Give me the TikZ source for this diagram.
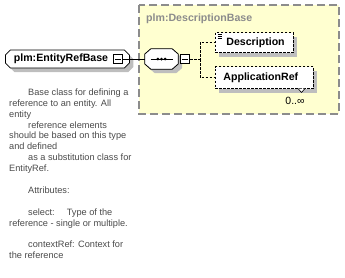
\documentclass[tikz,border=0pt]{standalone}
\usepackage{fontspec}
\setmainfont{Liberation Sans}
\usetikzlibrary{shapes.misc, shadows, calc}
\definecolor{panel}{HTML}{FFFFD0}
\definecolor{panelline}{HTML}{8C8C8C}
\definecolor{shade}{HTML}{BEBEBE}
\definecolor{doc}{HTML}{4A4A4A}
\definecolor{muted}{HTML}{8C8C8C}
\tikzset{
  shade/.style={drop shadow={shadow xshift=4pt, shadow yshift=-4pt, fill=shade, opacity=1}},
  typebox/.style={
    chamfered rectangle, chamfered rectangle xsep=2.5pt, chamfered rectangle ysep=2.5pt,
    draw=black, fill=white, line width=0.8pt, shade,
    minimum height=18pt, text width=107pt, inner xsep=6pt, inner ysep=0pt,
    align=left, font=\bfseries\fontsize{10.6}{12}\selectfont
  },
  seqbox/.style={rectangle, minimum width=33pt, minimum height=20pt, inner sep=0pt},
  octagon/.style={line width=0.8pt, draw=black, fill=white},
  elembox/.style={
    rectangle, draw=black, dashed, dash pattern=on 2.5pt off 1.5pt, fill=white,
    line width=0.8pt, shade, minimum height=20pt, inner ysep=0pt, inner xsep=0pt,
    align=left, font=\bfseries\fontsize{10.6}{12}\selectfont
  },
  pm/.style={
    rectangle, draw=black, fill=white, line width=0.6pt, minimum size=9.5pt, inner sep=0pt,
    path picture={\draw[line width=0.6pt] ([xshift=2pt]path picture bounding box.west)
      -- ([xshift=-2pt]path picture bounding box.east);}
  },
  link/.style={line width=0.8pt, draw=black},
  optlink/.style={link, dash pattern=on 2.5pt off 1.5pt},
  panelbox/.style={draw=panelline, fill=panel, line width=1.4pt, dash pattern=on 8pt off 4pt},
  label/.style={font=\bfseries\fontsize{10.6}{12}\selectfont, text=muted, inner sep=0pt},
  note/.style={font=\fontsize{9.2}{10.9}\selectfont, text=doc, align=left, inner sep=0pt},
}
\begin{document}
\begin{tikzpicture}[x=1pt, y=-1pt]
  \useasboundingbox (0,0) rectangle (345,277);

  % base type panel
  \draw[panelbox] (139,5) rectangle (339,114);
  \node[label, anchor=west] (base) at (146,19) {plm:DescriptionBase};

  % complex type and its sequence
  \node[typebox, anchor=west] (erb) at (5,59) {plm:EntityRefBase};
  \node[pm] (erbpm) at (118,59) {};
  \node[seqbox] (seq) at (161.5,59) {};
  \fill[shade, shift={(3,3)}] ($(seq.north west)+(6,0)$) -- ($(seq.north east)+(-6,0)$)
    -- ($(seq.east)+(0,-5)$) -- ($(seq.east)+(0,5)$) -- ($(seq.south east)+(-6,0)$)
    -- ($(seq.south west)+(6,0)$) -- ($(seq.west)+(0,5)$) -- ($(seq.west)+(0,-5)$) -- cycle;
  \draw[octagon] ($(seq.north west)+(6,0)$) -- ($(seq.north east)+(-6,0)$)
    -- ($(seq.east)+(0,-5)$) -- ($(seq.east)+(0,5)$) -- ($(seq.south east)+(-6,0)$)
    -- ($(seq.south west)+(6,0)$) -- ($(seq.west)+(0,5)$) -- ($(seq.west)+(0,-5)$) -- cycle;
  \draw[line width=1pt] ($(seq.center)+(-11,0)$) -- ($(seq.center)+(11,0)$);
  \foreach \dx in {-3.6,0,3.6}
    \fill ($(seq.center)+(\dx,0)$) circle (1.5pt);
  \node[pm] (seqpm) at (185,59) {};

  % child elements
  \node[elembox, minimum width=78pt, text width=70pt, anchor=west] (desc) at (215,42.5)
    {\hspace*{7pt}Description};
  \foreach \dy in {0,2,4}
    \draw[line width=0.6pt] (217.5,34.5+\dy) -- (222,34.5+\dy);
  \node[elembox, minimum width=98pt, minimum height=22pt, text width=98pt, anchor=west] (appref) at (215,77.5)
    {\hspace*{8pt}ApplicationRef};
  \filldraw[fill=white, draw=black, line width=0.6pt] (298,88.5) -- (301.5,92.5) -- (305,88.5);
  \node[font=\fontsize{10.5}{12}\selectfont, inner sep=0pt] (occ) at (295,100.5) {0..∞};

  \coordinate (fork) at (200,59);
  \draw[link] (erbpm) -- (seq);
  \draw[optlink] (seqpm) -- (fork) |- (desc.west);
  \draw[optlink] (fork) |- (appref.west);

  % annotation
  \node[note, anchor=north west] (doc) at (9,88.5) {%
    \hspace*{19pt}Base class for defining a\\
    reference to an entity. All\\
    entity\\
    \hspace*{19pt}reference elements\\
    should be based on this type\\
    and defined\\
    \hspace*{19pt}as a substitution class for\\
    EntityRef.\\
    \mbox{}\\
    \hspace*{19pt}Attributes:\\
    \mbox{}\\
    \hspace*{19pt}select:\hspace{12pt}Type of the\\
    reference - single or multiple.\\
    \mbox{}\\
    \hspace*{19pt}contextRef: Context for\\
    the reference};
\end{tikzpicture}
\end{document}
